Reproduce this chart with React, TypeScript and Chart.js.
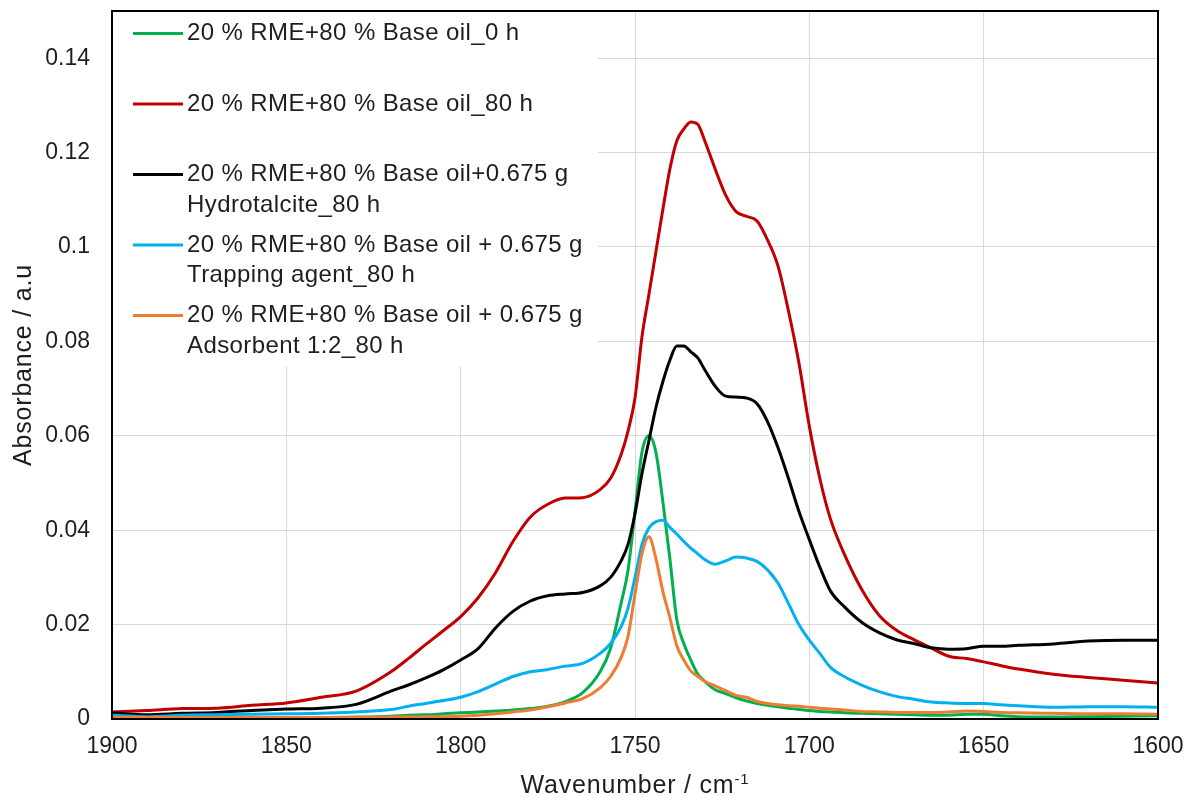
import React, { useEffect, useRef } from "react";
import { Chart, registerables } from "chart.js";

Chart.register(...registerables);

// Wavenumber grid (cm-1) shared by all spectra
const wavenumbers = [
  1900, 1890, 1880, 1870, 1860, 1850, 1840, 1830, 1820, 1815, 1810, 1805, 1800,
  1795, 1790, 1785, 1780, 1775, 1770, 1765, 1760, 1757, 1754, 1752, 1750, 1748,
  1746, 1744, 1742, 1740, 1738, 1736, 1734, 1732, 1730, 1727, 1724, 1721, 1718,
  1715, 1712, 1709, 1706, 1703, 1700, 1697, 1694, 1690, 1685, 1680, 1675, 1670,
  1665, 1660, 1655, 1650, 1645, 1640, 1630, 1620, 1610, 1600,
];

const absorbance0h = [
  0.0003, 0.0002, 0.0002, 0.0002, 0.0002, 0.0003, 0.0003, 0.0004, 0.0006, 0.0008, 0.0009, 0.0011, 0.0013,
  0.0015, 0.0017, 0.0019, 0.0022, 0.0027, 0.0037, 0.0056, 0.01, 0.015, 0.0245, 0.0315, 0.044, 0.0565,
  0.06, 0.0565, 0.046, 0.034, 0.021, 0.016, 0.0125, 0.0095, 0.008, 0.0062, 0.0054, 0.0045, 0.0038,
  0.0033, 0.0029, 0.0026, 0.0023, 0.002, 0.0018, 0.0016, 0.0015, 0.0013, 0.0012, 0.0011, 0.001, 0.0009,
  0.0008, 0.0008, 0.001, 0.001, 0.0007, 0.0005, 0.0004, 0.0005, 0.0006, 0.0007,
];

const absorbance80h = [
  0.0015, 0.0018, 0.0022, 0.0023, 0.0029, 0.0034, 0.0046, 0.0059, 0.01, 0.0128, 0.0158, 0.0187, 0.0217,
  0.0257, 0.031, 0.0376, 0.0428, 0.0455, 0.0468, 0.0469, 0.0486, 0.051, 0.056, 0.061, 0.068, 0.081,
  0.09, 0.099, 0.108, 0.1165, 0.1225, 0.125, 0.1265, 0.126, 0.1225, 0.1165, 0.111, 0.1075, 0.1065,
  0.1055, 0.1015, 0.096, 0.0865, 0.0755, 0.062, 0.051, 0.0425, 0.035, 0.0275, 0.022, 0.0188, 0.0168,
  0.015, 0.0133, 0.0128, 0.0121, 0.0113, 0.0106, 0.0095, 0.0088, 0.0082, 0.0076,
];

const absorbanceHydrotalcite = [
  0.0013, 0.0009, 0.0012, 0.0014, 0.0018, 0.0021, 0.0023, 0.0031, 0.0059, 0.0072, 0.0087, 0.0104, 0.0125,
  0.0149, 0.0193, 0.0228, 0.025, 0.0261, 0.0265, 0.0268, 0.0282, 0.03, 0.0335, 0.037, 0.0435, 0.052,
  0.059, 0.066, 0.0715, 0.076, 0.079, 0.079, 0.0778, 0.0765, 0.074, 0.0705, 0.0684, 0.0682, 0.068,
  0.0668, 0.063, 0.0575, 0.051, 0.044, 0.038, 0.0322, 0.0272, 0.0238, 0.0205, 0.0183, 0.0168, 0.016,
  0.0151, 0.0148, 0.0149, 0.0154, 0.0154, 0.0156, 0.0159, 0.0165, 0.0167, 0.0167,
];

const absorbanceTrapping = [
  0.0008, 0.0005, 0.0008, 0.0009, 0.001, 0.0011, 0.0012, 0.0015, 0.002, 0.0027, 0.0033, 0.0039, 0.0046,
  0.0058, 0.0074, 0.009, 0.01, 0.0105, 0.0112, 0.0118, 0.0139, 0.016, 0.0195, 0.0235, 0.03, 0.037,
  0.0405, 0.0418, 0.0421, 0.0406, 0.0392, 0.0376, 0.0362, 0.035, 0.0338, 0.0328, 0.0335, 0.0343, 0.0341,
  0.0334, 0.0316, 0.0288, 0.0245, 0.02, 0.0167, 0.0139, 0.011, 0.009, 0.0072, 0.0058, 0.0048, 0.0042,
  0.0036, 0.0034, 0.0033, 0.0033, 0.003, 0.0028, 0.0025, 0.0026, 0.0026, 0.0025,
];

const absorbanceAdsorbent = [
  0.0003, 0.0003, 0.0003, 0.0003, 0.0003, 0.0003, 0.0003, 0.0003, 0.0004, 0.0004, 0.0005, 0.0005, 0.0006,
  0.0008, 0.0011, 0.0015, 0.0019, 0.0026, 0.0034, 0.0043, 0.0066, 0.009, 0.013, 0.0175, 0.0265, 0.035,
  0.0386, 0.034, 0.027, 0.0215, 0.0155, 0.0125, 0.0102, 0.009, 0.008, 0.007, 0.006, 0.005, 0.0046,
  0.0037, 0.0033, 0.003, 0.0028, 0.0027, 0.0025, 0.0023, 0.0021, 0.0019, 0.0016, 0.0015, 0.0014, 0.0014,
  0.0014, 0.0015, 0.0017, 0.0016, 0.0014, 0.0013, 0.0012, 0.0011, 0.0011, 0.001,
];

const seriesLabels = [
  ["20 % RME+80 % Base oil_0 h"],
  ["20 % RME+80 % Base oil_80 h"],
  ["20 % RME+80 % Base oil+0.675 g", "Hydrotalcite_80 h"],
  ["20 % RME+80 % Base oil + 0.675 g", "Trapping agent_80 h"],
  ["20 % RME+80 % Base oil + 0.675 g", "Adsorbent 1:2_80 h"],
];
const seriesValues = [
  absorbance0h,
  absorbance80h,
  absorbanceHydrotalcite,
  absorbanceTrapping,
  absorbanceAdsorbent,
];
const seriesColors = ["#00B050", "#C00000", "#000000", "#00B0F0", "#ED7D31"];

const yTickValues = [0, 0.02, 0.04, 0.06, 0.08, 0.1, 0.12, 0.14];

const xTitle = "Wavenumber / cm";
const xTitleSup = "-1";
const yTitle = "Absorbance / a.u";

const FONT = '"Liberation Sans", Arial, sans-serif';
const TEXT_COLOR = "#1e1e1e";

// Plot frame, legend panel and axis titles
const framePlugin = {
  id: "frame",
  beforeDatasetsDraw(chart: any) {
    const { ctx, chartArea } = chart;
    ctx.save();
    ctx.fillStyle = "#ffffff";
    ctx.fillRect(chartArea.left + 1, chartArea.top + 1, 485, 354);
    ctx.restore();
  },
  afterDatasetsDraw(chart: any) {
    const { ctx, chartArea } = chart;
    const { left, top, right, bottom } = chartArea;
    ctx.save();
    // legend
    ctx.font = `24px ${FONT}`;
    ctx.letterSpacing = "0.4px";
    ctx.textBaseline = "middle";
    ctx.textAlign = "left";
    seriesLabels.forEach((lines, i) => {
      const y = top + 22.5 + i * 70.5;
      ctx.strokeStyle = seriesColors[i];
      ctx.lineWidth = 3;
      ctx.beginPath();
      ctx.moveTo(left + 21, y);
      ctx.lineTo(left + 71, y);
      ctx.stroke();
      ctx.fillStyle = TEXT_COLOR;
      lines.forEach((line, j) => {
        ctx.fillText(line, left + 75, y + j * 30.5);
      });
    });
    // frame
    ctx.strokeStyle = "#000000";
    ctx.lineWidth = 2;
    ctx.strokeRect(left, top, right - left, bottom - top);
    ctx.restore();
  },
  afterDraw(chart: any) {
    const { ctx, chartArea } = chart;
    const { left, top, right, bottom } = chartArea;
    ctx.save();
    ctx.fillStyle = TEXT_COLOR;
    ctx.textBaseline = "alphabetic";
    // x title with superscript
    ctx.font = `25px ${FONT}`;
    ctx.letterSpacing = "0.8px";
    const mainW = ctx.measureText(xTitle).width;
    ctx.font = `15px ${FONT}`;
    const supW = ctx.measureText(xTitleSup).width;
    const startX = (left + right) / 2 - (mainW + supW) / 2;
    ctx.font = `25px ${FONT}`;
    ctx.textAlign = "left";
    ctx.fillText(xTitle, startX, 793);
    ctx.font = `15px ${FONT}`;
    ctx.fillText(xTitleSup, startX + mainW, 784);
    // y title
    ctx.font = `25px ${FONT}`;
    ctx.translate(31, (top + bottom) / 2);
    ctx.rotate(-Math.PI / 2);
    ctx.textAlign = "center";
    ctx.fillText(yTitle, 0, 0);
    ctx.restore();
  },
};

export default function App() {
  const canvasRef = useRef<HTMLCanvasElement>(null);

  useEffect(() => {
    const canvas = canvasRef.current;
    if (!canvas) return;
    const chart = new Chart(canvas, {
      type: "line",
      data: {
        datasets: seriesValues.map((values, i) => ({
          label: seriesLabels[i].join(" "),
          data: wavenumbers.map((w, k) => ({ x: w, y: values[k] })),
          borderColor: seriesColors[i],
          backgroundColor: seriesColors[i],
          borderWidth: 3,
          pointRadius: 0,
          fill: false,
          cubicInterpolationMode: "monotone" as const,
          order: seriesValues.length - 1 - i,
        })),
      },
      options: {
        responsive: false,
        animation: false,
        devicePixelRatio: 1,
        layout: { padding: { left: 0, right: 29, top: 11, bottom: 0 } },
        plugins: {
          legend: { display: false },
          tooltip: { enabled: false },
        },
        scales: {
          x: {
            type: "linear",
            min: 1600,
            max: 1900,
            reverse: true,
            afterFit: (scale: any) => {
              scale.height = 78;
              scale.paddingLeft = 0;
              scale.paddingRight = 0;
            },
            ticks: {
              stepSize: 50,
              padding: 14,
              color: TEXT_COLOR,
              font: { family: FONT, size: 23 },
              callback: (v: any) => String(v),
            },
            grid: { color: "#d9d9d9", lineWidth: 1, drawTicks: false },
            border: { display: false },
          },
          y: {
            type: "linear",
            min: 0,
            max: 0.15,
            afterFit: (scale: any) => {
              scale.width = 112;
              scale.paddingTop = 0;
              scale.paddingBottom = 0;
            },
            afterBuildTicks: (scale: any) => {
              scale.ticks = yTickValues.map((value) => ({ value }));
            },
            ticks: {
              padding: 22,
              color: TEXT_COLOR,
              font: { family: FONT, size: 23 },
              callback: (v: any) => String(Number(Number(v).toFixed(2))),
            },
            grid: { color: "#d9d9d9", lineWidth: 1, drawTicks: false },
            border: { display: false },
          },
        },
      },
      plugins: [framePlugin],
    });
    return () => chart.destroy();
  }, []);

  return (
    <div style={{ position: "absolute", left: 0, top: 0, width: 1187, height: 797, background: "#fff" }}>
      <canvas ref={canvasRef} width={1187} height={797} />
    </div>
  );
}
